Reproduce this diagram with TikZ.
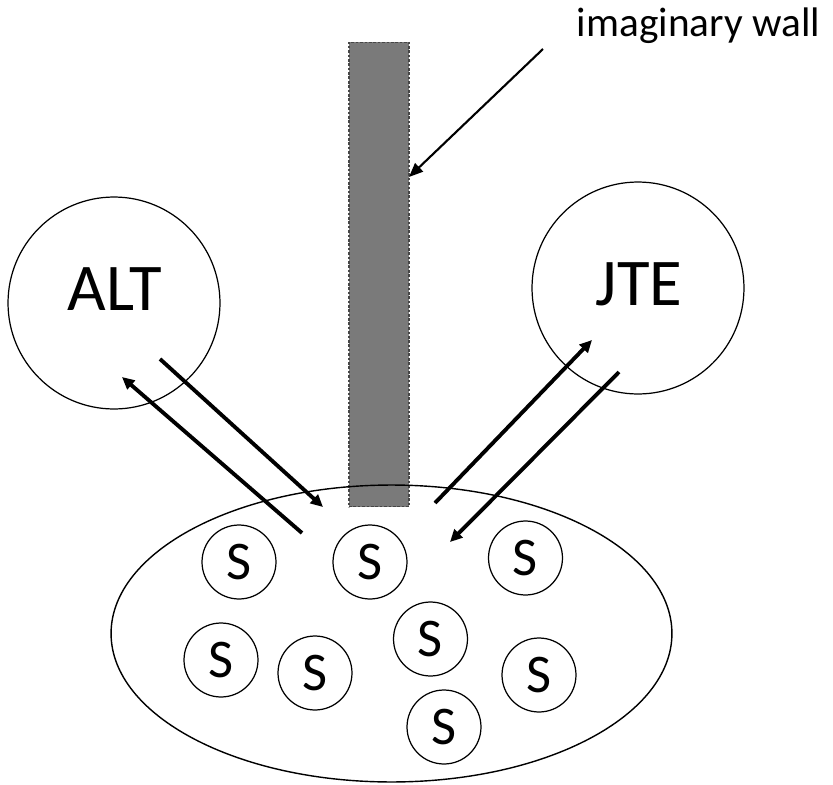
\documentclass[tikz,border=0pt]{standalone}
\usepackage{fontspec}
\setmainfont{Carlito}
\usetikzlibrary{arrows.meta,shapes.geometric}
\definecolor{wallgray}{RGB}{122,122,122}
\definecolor{wallline}{RGB}{70,70,70}
\tikzset{
  party/.style={draw, circle, line width=0.7pt, minimum size=4.24cm, inner sep=0pt},
  partyname/.style={font=\fontsize{38}{40}\selectfont, anchor=base},
  pool/.style={draw, ellipse, line width=0.8pt, minimum width=11.22cm, minimum height=5.94cm, inner sep=0pt},
  sbox/.style={draw, circle, line width=0.7pt, minimum size=1.48cm, inner sep=0pt, font=\fontsize{31}{33}\selectfont},
  wall/.style={draw=wallline, fill=wallgray, line width=0.6pt, dash pattern=on 1.5pt off 1pt, minimum width=1.2cm, minimum height=9.3cm, inner sep=0pt},
  flow/.style={line width=2.2pt, -{Triangle[length=7pt,width=6.5pt]}},
  pointer/.style={line width=1.2pt, -{Triangle[length=8pt,width=6.5pt]}}
}
\begin{document}
\begin{tikzpicture}[x=0.02cm, y=-0.02cm]
\useasboundingbox (0,0) rectangle (833,785);
\node[wall] (wall) at (379,274.5) {};
\node[anchor=base, font=\fontsize{23.5}{26}\selectfont] (walltext) at (698.5,36.7) {imaginary wall};
\coordinate (ws) at (543,49);
\coordinate (we) at (409,177);
\draw[pointer] (ws) -- (we);

\node[party] (alt) at (114,303) {};
\node[partyname] (altname) at (115,310.7) {ALT};
\node[party] (jte) at (638,288) {};
\node[partyname] (jtename) at (639,305) {JTE};

\node[pool] (pool) at (391.5,633.5) {};
\foreach \i/\px/\py in {1/239/562, 2/370/562, 3/525.5/558, 4/221/660, 5/315/673, 6/430.5/639, 7/539/675, 8/444/727}
  \node[sbox] (s\i) at (\px,\py) {S};

\coordinate (a1s) at (160,359);
\coordinate (a1e) at (323,507);
\coordinate (a2s) at (302,533);
\coordinate (a2e) at (122,377);
\coordinate (b1s) at (435,503);
\coordinate (b1e) at (592,340);
\coordinate (b2s) at (619,372);
\coordinate (b2e) at (450,542);
\draw[flow] (a1s) -- (a1e);
\draw[flow] (a2s) -- (a2e);
\draw[flow] (b1s) -- (b1e);
\draw[flow] (b2s) -- (b2e);
\end{tikzpicture}
\end{document}
